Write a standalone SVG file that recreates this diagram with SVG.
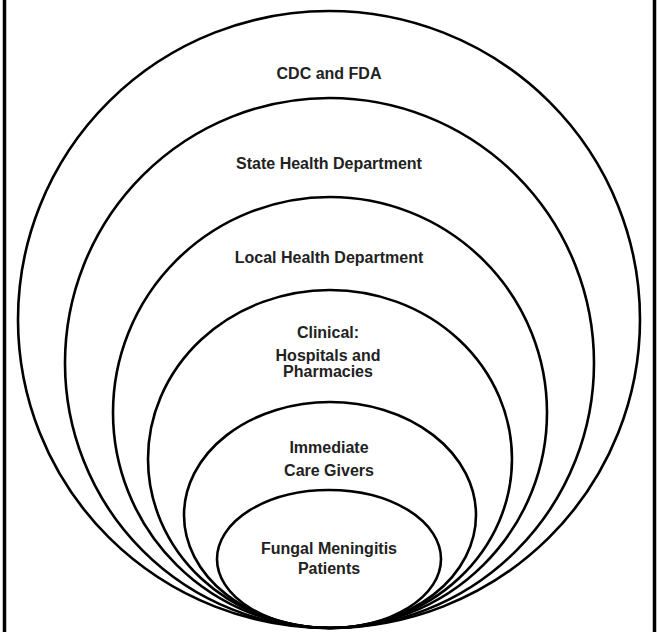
<svg xmlns="http://www.w3.org/2000/svg" width="657" height="632" viewBox="0 0 657 632">
<style>
.ring{fill:none;stroke:#000;stroke-width:2.6}
.lbl{font-family:"Liberation Sans",Arial,sans-serif;font-weight:bold;font-size:16px;fill:#222;text-anchor:middle}
.edge{stroke:#000;stroke-width:3.5}
</style>
<rect x="0" y="0" width="657" height="632" fill="#fff"/>
<line class="edge" x1="4.5" y1="0" x2="4.5" y2="632"/>
<line class="edge" x1="654.5" y1="0" x2="654.5" y2="632"/>
<g id="cdc-fda">
<ellipse class="ring" cx="329" cy="319.5" rx="311" ry="308.5"/>
<text class="lbl" x="329" y="79">CDC and FDA</text>
</g>
<g id="state-health">
<ellipse class="ring" cx="329.5" cy="363" rx="264.5" ry="265"/>
<text class="lbl" x="329" y="169">State Health Department</text>
</g>
<g id="local-health">
<ellipse class="ring" cx="330" cy="412.5" rx="217" ry="215.5"/>
<text class="lbl" x="329" y="263">Local Health Department</text>
</g>
<g id="clinical">
<ellipse class="ring" cx="330" cy="459" rx="182" ry="169"/>
<text class="lbl" x="328" y="338">Clinical:</text>
<text class="lbl" x="328" y="361">Hospitals and</text>
<text class="lbl" x="328" y="377">Pharmacies</text>
</g>
<g id="caregivers">
<ellipse class="ring" cx="330" cy="515" rx="146" ry="113"/>
<text class="lbl" x="329" y="453">Immediate</text>
<text class="lbl" x="329" y="476">Care Givers</text>
</g>
<g id="patients">
<ellipse class="ring" cx="329" cy="559" rx="112" ry="69"/>
<text class="lbl" x="329" y="554">Fungal Meningitis</text>
<text class="lbl" x="329" y="574">Patients</text>
</g>
<g id="connectors"/>
</svg>
